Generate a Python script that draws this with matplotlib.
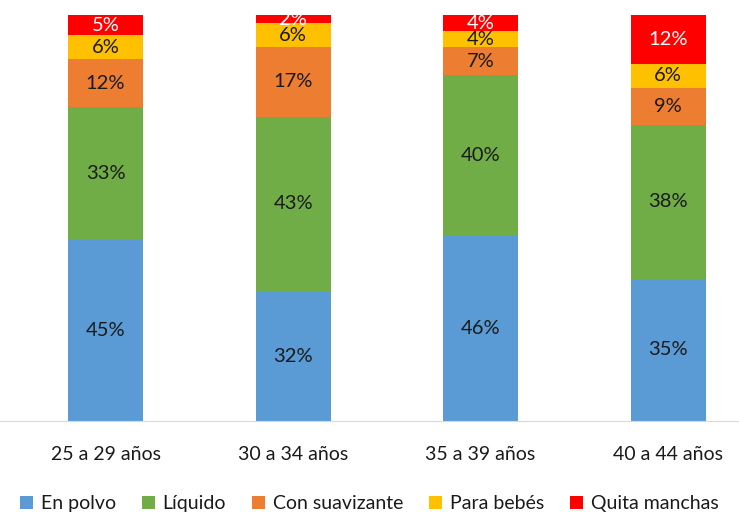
import matplotlib.pyplot as plt
import numpy as np

plt.rcParams['font.family'] = ['Lato', 'DejaVu Sans']

grupos = ["25 a 29 años", "30 a 34 años", "35 a 39 años", "40 a 44 años"]
series = ["En polvo", "Líquido", "Con suavizante", "Para bebés", "Quita manchas"]
colores = ["#5B9BD5", "#70AD47", "#ED7D31", "#FFC000", "#FF0000"]

en_polvo = [45, 32, 46, 35]
liquido = [33, 43, 40, 38]
suavizante = [12, 17, 7, 9]
bebes = [6, 6, 4, 6]
quita_manchas = [5, 2, 4, 12]

valores = np.array([en_polvo, liquido, suavizante, bebes, quita_manchas], dtype=float)
# 100% stacked: each column scaled to its own total
proporcion = valores / valores.sum(axis=0)

fig = plt.figure(figsize=(7.39, 5.12), dpi=100)
ax = fig.add_axes([0, 91 / 512, 1, 406 / 512])

x = np.arange(len(grupos))
base = np.zeros(len(grupos))
for i, nombre in enumerate(series):
    ax.bar(x, proporcion[i], 0.4, bottom=base, color=colores[i], label=nombre, zorder=2)
    for j in range(len(grupos)):
        color_txt = "white" if i == 4 else "#1a1a1a"
        ax.text(x[j], base[j] + proporcion[i][j] / 2, "%d%%" % valores[i][j],
                ha="center", va="center", fontsize=14.5, color=color_txt, zorder=3)
    base += proporcion[i]

ax.set_ylim(0, 1)
ax.set_xlim(-0.563, 3.378)
ax.set_yticks([])
ax.set_xticks(x)
ax.set_xticklabels(grupos, fontsize=14, color="#1a1a1a")
ax.tick_params(axis="x", length=0, pad=18)
for lado in ["top", "left", "right"]:
    ax.spines[lado].set_visible(False)
ax.spines["bottom"].set_color("#D9D9D9")

fig.legend(loc="lower center", bbox_to_anchor=(0.5, -0.035), ncol=5, frameon=False,
           fontsize=14, handlelength=0.65, handleheight=0.65, handletextpad=0.4,
           columnspacing=1.35, labelcolor="#1a1a1a")

fig.savefig("out.png", dpi=100)
